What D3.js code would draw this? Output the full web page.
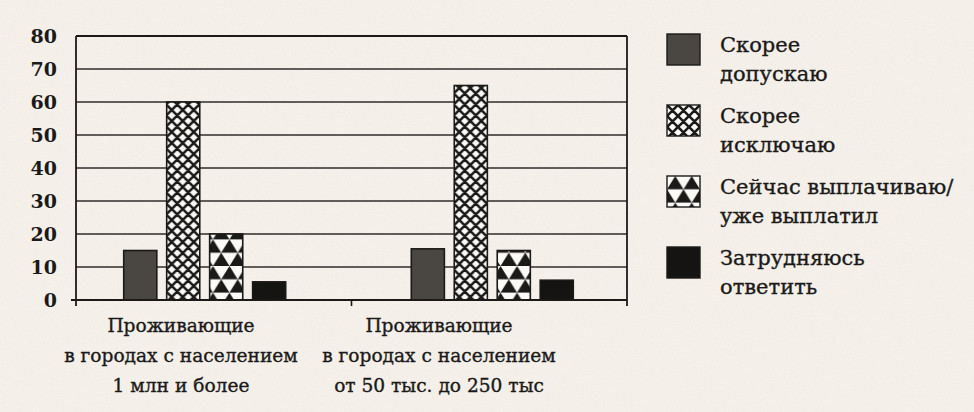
<!DOCTYPE html>
<html>
<head>
<meta charset="utf-8">
<script src="https://cdn.jsdelivr.net/npm/d3@7"></script>
<style>
  html, body { margin: 0; padding: 0; background: #f4efe9; }
  svg { display: block; }
</style>
</head>
<body>
<svg id="chart"></svg>
<script>
// Data
const categories = ['Проживающие в городах с населением 1 млн и более', 'Проживающие в городах с населением от 50 тыс. до 250 тыс'];
const categoryLines = [
  ['Проживающие', 'в городах с населением', '1 млн и более'],
  ['Проживающие', 'в городах с населением', 'от 50 тыс. до 250 тыс']
];
const seriesNames = ['Скорее допускаю', 'Скорее исключаю', 'Сейчас выплачиваю/ уже выплатил', 'Затрудняюсь ответить'];
const legendLines = [
  ['Скорее', 'допускаю'],
  ['Скорее', 'исключаю'],
  ['Сейчас выплачиваю/', 'уже выплатил'],
  ['Затрудняюсь', 'ответить']
];
const dopuskayu = [15, 15.5];
const isklyuchayu = [60, 65];
const vyplachivayu = [20, 15];
const zatrudnyayus = [5.5, 6];
const yTicks = [0, 10, 20, 30, 40, 50, 60, 70, 80];

const seriesValues = [dopuskayu, isklyuchayu, vyplachivayu, zatrudnyayus];

const W = 974, H = 412;
const margin = { top: 36, left: 76, right: 347, bottom: 112 };
const plotW = W - margin.left - margin.right;
const plotH = H - margin.top - margin.bottom;
const font = '"DejaVu Serif", "Liberation Serif", serif';
const ink = '#1b1a18';

const svg = d3.select('#chart').attr('width', W).attr('height', H);

const defs = svg.append('defs');

// Paper grain
const grain = defs.append('filter').attr('id', 'grain')
  .attr('x', 0).attr('y', 0).attr('width', '100%').attr('height', '100%');
grain.append('feTurbulence')
  .attr('type', 'fractalNoise')
  .attr('baseFrequency', 0.9)
  .attr('numOctaves', 2)
  .attr('seed', 3);
grain.append('feColorMatrix')
  .attr('type', 'matrix')
  .attr('values', '0 0 0 0 0.35  0 0 0 0 0.32  0 0 0 0 0.28  0 0 0 -1.4 0.75');

svg.append('rect')
  .attr('width', W).attr('height', H)
  .attr('fill', '#f5f0ea');
svg.append('rect')
  .attr('width', W).attr('height', H)
  .attr('filter', 'url(#grain)')
  .attr('opacity', 0.1);

// Patterns
const cross = defs.append('pattern')
  .attr('id', 'cross')
  .attr('patternUnits', 'userSpaceOnUse')
  .attr('width', 11).attr('height', 11);
cross.append('rect').attr('width', 11).attr('height', 11).attr('fill', '#fcfaf7');
cross.append('path')
  .attr('d', 'M0,0L11,11M11,0L0,11M-1,10L1,12M10,-1L12,1M10,12L12,10M-1,1L1,-1')
  .attr('stroke', ink).attr('stroke-width', 2.6);

const tri = defs.append('pattern')
  .attr('id', 'tri')
  .attr('patternUnits', 'userSpaceOnUse')
  .attr('width', 16.5).attr('height', 26.6);
tri.append('rect').attr('width', 16.5).attr('height', 26.6).attr('fill', '#fcfaf7');
tri.append('path')
  .attr('d', 'M0,13.3L8.25,0L16.5,13.3Z M-8.25,26.6L0,13.3L8.25,26.6Z M8.25,26.6L16.5,13.3L24.75,26.6Z')
  .attr('fill', ink);

const fills = ['#4a4641', 'url(#cross)', 'url(#tri)', '#151412'];

// Scales
const x0 = d3.scaleBand()
  .domain(categories)
  .range([margin.left, margin.left + plotW]);

// group centres sit a little off the band centres in the original
const xc = d3.scalePoint()
  .domain(categories)
  .range([margin.left - 3, margin.left + plotW - 3])
  .padding(0.458);

const groupW = 162;
const x1 = d3.scaleBand()
  .domain(d3.range(seriesNames.length))
  .range([-groupW / 2, groupW / 2])
  .paddingInner(0.23);

const y = d3.scaleLinear()
  .domain([0, 80])
  .range([margin.top + plotH, margin.top]);

// Grid
svg.append('g')
  .selectAll('line')
  .data(yTicks.filter(d => d > 0))
  .enter().append('line')
  .attr('x1', margin.left)
  .attr('x2', margin.left + plotW)
  .attr('y1', d => y(d))
  .attr('y2', d => y(d))
  .attr('stroke', d => d === 80 ? ink : '#2f2d2a')
  .attr('stroke-width', d => d === 80 ? 1.9 : 1.5);

// Right border
svg.append('line')
  .attr('x1', margin.left + plotW).attr('x2', margin.left + plotW)
  .attr('y1', y(80)).attr('y2', y(0) + 6)
  .attr('stroke', ink).attr('stroke-width', 1.8);

// Bars
const groups = svg.append('g')
  .selectAll('g')
  .data(categories)
  .enter().append('g')
  .attr('transform', c => `translate(${xc(c)},0)`);

groups.selectAll('rect')
  .data((c, ci) => seriesValues.map((vals, si) => ({ si, value: vals[ci] })))
  .enter().append('rect')
  .attr('x', d => x1(d.si))
  .attr('y', d => y(d.value))
  .attr('width', x1.bandwidth())
  .attr('height', d => y(0) - y(d.value))
  .attr('fill', d => fills[d.si])
  .attr('stroke', ink)
  .attr('stroke-width', 1.6);

// Y axis
const yAxis = d3.axisLeft(y)
  .tickValues(yTicks)
  .tickSize(0)
  .tickPadding(0);

const yG = svg.append('g')
  .attr('transform', `translate(${margin.left - 19},0)`)
  .call(yAxis);
yG.select('.domain').remove();
yG.selectAll('text')
  .attr('dy', '0.36em')
  .style('font-family', font)
  .style('font-size', '19px')
  .style('font-weight', 'bold')
  .style('fill', ink);

svg.append('line')
  .attr('x1', margin.left).attr('x2', margin.left)
  .attr('y1', y(80)).attr('y2', y(0) + 6)
  .attr('stroke', ink).attr('stroke-width', 1.8);

// X axis baseline and boundary ticks
svg.append('line')
  .attr('x1', margin.left - 5).attr('x2', margin.left + plotW)
  .attr('y1', y(0)).attr('y2', y(0))
  .attr('stroke', ink).attr('stroke-width', 1.9);

svg.append('g')
  .selectAll('line')
  .data(categories.slice(1))
  .enter().append('line')
  .attr('x1', c => x0(c)).attr('x2', c => x0(c))
  .attr('y1', y(0)).attr('y2', y(0) + 6)
  .attr('stroke', ink).attr('stroke-width', 1.6);

// Category labels
const labelX = d3.scaleBand()
  .domain(categories)
  .range([margin.left - 24, margin.left - 24 + 2 * 258]);

svg.append('g')
  .selectAll('text')
  .data(categories)
  .enter().append('text')
  .attr('x', c => labelX(c) + labelX.bandwidth() / 2)
  .attr('y', y(0) + 32)
  .attr('text-anchor', 'middle')
  .style('font-family', font)
  .style('font-size', '18.6px')
  .style('fill', ink)
  .style('stroke', ink)
  .style('stroke-width', 0.35)
  .selectAll('tspan')
  .data((c, i) => categoryLines[i])
  .enter().append('tspan')
  .attr('x', function() { return this.parentNode.getAttribute('x'); })
  .attr('dy', (d, i) => i === 0 ? 0 : 30)
  .text(d => d);

// Legend
const legend = svg.append('g')
  .attr('transform', `translate(667, 34)`);

const item = legend.selectAll('g')
  .data(seriesNames)
  .enter().append('g')
  .attr('transform', (d, i) => `translate(0, ${i * 71})`);

item.append('rect')
  .attr('width', 33)
  .attr('height', 31)
  .attr('fill', (d, i) => fills[i])
  .attr('stroke', ink)
  .attr('stroke-width', 1.4);

item.append('text')
  .attr('x', 53)
  .attr('y', 18)
  .style('font-family', font)
  .style('font-size', '21px')
  .style('fill', ink)
  .style('stroke', ink)
  .style('stroke-width', 0.35)
  .selectAll('tspan')
  .data((d, i) => legendLines[i])
  .enter().append('tspan')
  .attr('x', 53)
  .attr('dy', (d, i) => i === 0 ? 0 : 29)
  .text(d => d);
</script>
</body>
</html>
